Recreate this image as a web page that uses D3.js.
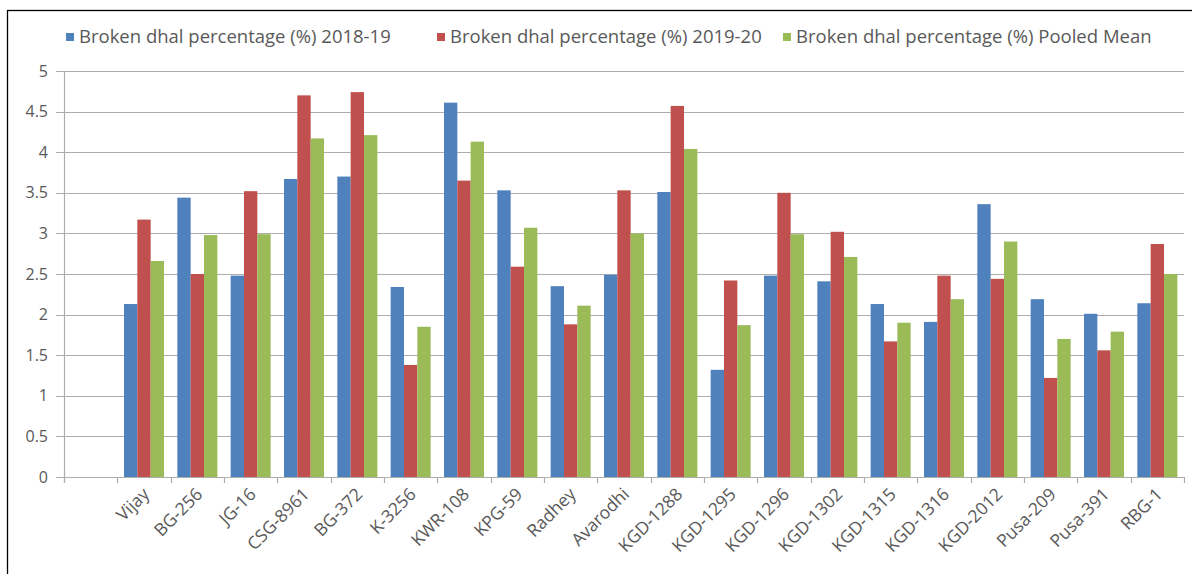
<!DOCTYPE html>
<html>
<head>
<meta charset="utf-8">
<script src="https://cdn.jsdelivr.net/npm/d3@7"></script>
<style>
  html, body { margin: 0; padding: 0; background: #fff; }
  svg { display: block; }
  text { font-family: "Open Sans", "Liberation Sans", sans-serif; fill: #595959; }
</style>
</head>
<body>
<svg id="chart" width="1192" height="574"></svg>
<script>
// Varieties along the category axis
const categories = ["Vijay", "BG-256", "JG-16", "CSG-8961", "BG-372", "K-3256", "KWR-108", "KPG-59",
  "Radhey", "Avarodhi", "KGD-1288", "KGD-1295", "KGD-1296", "KGD-1302", "KGD-1315", "KGD-1316",
  "KGD-2012", "Pusa-209", "Pusa-391", "RBG-1"];

// Broken dhal percentage (%) per season
const values2018 = [2.13, 3.44, 2.48, 3.67, 3.70, 2.34, 4.61, 3.53, 2.35, 2.49, 3.51, 1.32, 2.48, 2.41, 2.13, 1.91, 3.36, 2.19, 2.01, 2.14];
const values2019 = [3.17, 2.50, 3.52, 4.70, 4.74, 1.38, 3.65, 2.59, 1.88, 3.53, 4.57, 2.42, 3.50, 3.02, 1.67, 2.48, 2.44, 1.22, 1.56, 2.87];
const valuesPooled = [2.66, 2.98, 2.99, 4.17, 4.21, 1.85, 4.13, 3.07, 2.11, 3.00, 4.04, 1.87, 2.99, 2.71, 1.90, 2.19, 2.90, 1.70, 1.79, 2.50];

const seriesNames = ["Broken dhal percentage (%) 2018-19", "Broken dhal percentage (%) 2019-20", "Broken dhal percentage (%) Pooled Mean"];
const seriesColors = ["#4F81BD", "#C0504D", "#9BBB59"];
const yTicks = [0, 0.5, 1, 1.5, 2, 2.5, 3, 3.5, 4, 4.5, 5];

const series = [values2018, values2019, valuesPooled];
const rows = categories.map((c, i) => ({ category: c, values: series.map(s => s[i]) }));

const svg = d3.select("#chart");

// Outer frame
svg.append("rect")
  .attr("x", 7.5).attr("y", 10.5)
  .attr("width", 1300).attr("height", 700)
  .attr("fill", "none").attr("stroke", "#000").attr("stroke-width", 1.3);

const plot = { left: 64, right: 1184, top: 71, bottom: 477 };
const nSlots = categories.length + 1;           // one empty slot before the first variety
const step = (plot.right - plot.left) / nSlots;

const x0 = d3.scaleBand()
  .domain(categories)
  .range([plot.left + step, plot.right])
  .paddingInner(0).paddingOuter(0);

const x1 = d3.scaleBand()
  .domain(d3.range(series.length))
  .range([0, x0.bandwidth()])
  .paddingInner(0)
  .paddingOuter(0.5);   // 50% gap width between groups

const y = d3.scaleLinear().domain([0, 5]).range([plot.bottom, plot.top]);

// Horizontal gridlines
svg.append("g")
  .selectAll("line")
  .data(yTicks)
  .join("line")
  .attr("x1", plot.left - 8).attr("x2", plot.right)
  .attr("y1", d => Math.round(y(d)) + 0.5).attr("y2", d => Math.round(y(d)) + 0.5)
  .attr("stroke", "#adadad").attr("stroke-width", 1.2);

// Y axis labels
svg.append("g")
  .selectAll("text")
  .data(yTicks)
  .join("text")
  .attr("x", plot.left - 16)
  .attr("y", d => y(d))
  .attr("dy", "0.35em")
  .attr("text-anchor", "end")
  .attr("font-size", 16)
  .text(d => d3.format("")(d));

// Vertical axis line
svg.append("line")
  .attr("x1", plot.left + 0.5).attr("x2", plot.left + 0.5)
  .attr("y1", plot.top).attr("y2", plot.bottom + 5)
  .attr("stroke", "#adadad").attr("stroke-width", 1.2);

// Bars
const groups = svg.append("g")
  .selectAll("g")
  .data(rows)
  .join("g")
  .attr("transform", d => `translate(${x0(d.category)},0)`);

groups.selectAll("rect")
  .data(d => d.values.map((v, i) => ({ i, v })))
  .join("rect")
  .attr("x", d => x1(d.i))
  .attr("width", x1.bandwidth())
  .attr("y", d => y(d.v))
  .attr("height", d => y(0) - y(d.v))
  .attr("fill", d => seriesColors[d.i]);

// Category axis line and tick marks between slots
svg.append("line")
  .attr("x1", plot.left).attr("x2", plot.right)
  .attr("y1", plot.bottom + 0.5).attr("y2", plot.bottom + 0.5)
  .attr("stroke", "#adadad").attr("stroke-width", 1.2);

svg.append("g")
  .selectAll("line")
  .data(d3.range(nSlots + 1))
  .join("line")
  .attr("x1", i => Math.round(plot.left + i * step) + 0.5)
  .attr("x2", i => Math.round(plot.left + i * step) + 0.5)
  .attr("y1", plot.bottom).attr("y2", plot.bottom + 6)
  .attr("stroke", "#adadad").attr("stroke-width", 1.2);

// Category labels, rotated
svg.append("g")
  .selectAll("text")
  .data(categories)
  .join("text")
  .attr("transform", d => `translate(${x0(d) + x0.bandwidth() / 2 + 2},${plot.bottom + 14}) rotate(-45)`)
  .attr("text-anchor", "end")
  .attr("dy", "0.35em")
  .attr("font-size", 17.5)
  .text(d => d);

// Legend
const legendX = [66, 437, 783];
const legend = svg.append("g")
  .selectAll("g")
  .data(seriesNames)
  .join("g")
  .attr("transform", (d, i) => `translate(${legendX[i]},37)`);

legend.append("rect")
  .attr("x", 0).attr("y", -4).attr("width", 8).attr("height", 8)
  .attr("fill", (d, i) => seriesColors[i]);

legend.append("text")
  .attr("x", 13)
  .attr("dy", "0.35em")
  .attr("font-size", 18.5)
  .text(d => d);
</script>
</body>
</html>
